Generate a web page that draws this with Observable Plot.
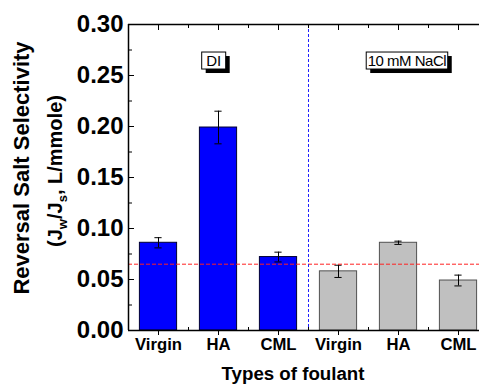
<!DOCTYPE html>
<html>
<head>
<meta charset="utf-8">
<script src="https://cdn.jsdelivr.net/npm/d3@7"></script>
<script src="https://cdn.jsdelivr.net/npm/@observablehq/plot@0.6"></script>
<style>
  html, body { margin: 0; padding: 0; background: #fff; }
  svg { font-family: Arial, "Liberation Sans", sans-serif; }
</style>
</head>
<body>
<div id="chart"></div>
<script>
// ---- data ----
const categories = ["Virgin", "HA", "CML", "Virgin", "HA", "CML"];
const groups = ["DI", "DI", "DI", "NaCl", "NaCl", "NaCl"];
const values = [0.086, 0.199, 0.072, 0.058, 0.086, 0.049];
const errors = [0.005, 0.016, 0.0048, 0.006, 0.0016, 0.0053];
const yMajorTicks = [0, 0.05, 0.10, 0.15, 0.20, 0.25, 0.30];
const yMinorTicks = [0.025, 0.075, 0.125, 0.175, 0.225, 0.275];
const referenceLevel = [0.065];
const dividerPosition = [2.5];
const annoLabels = ["DI", "10 mM NaCl"];
const annoX = [0.92, 4.14];
const annoY = [0.264, 0.264];

const rows = categories.map((c, i) => ({i, category: c, group: groups[i], value: values[i], err: errors[i]}));
const annos = annoLabels.map((t, k) => ({text: t, x: annoX[k], y: annoY[k]}));
const xIdx = d3.range(categories.length);
const xMid = xIdx.slice(0, -1).map(i => i + 0.5);

const W = 479, H = 384;
const halfBar = 0.31, halfCap = 0.06;

const plot = Plot.plot({
  width: W,
  height: H,
  marginLeft: 128,
  marginRight: 0,
  marginTop: 24,
  marginBottom: 54,
  x: {type: "linear", domain: [-0.5, 5.5], range: [128, 488], axis: null},
  y: {domain: [0, 0.3], range: [330, 24], axis: null},
  marks: [
    Plot.rectY(rows, {
      x1: d => d.i - halfBar, x2: d => d.i + halfBar, y1: 0, y2: "value",
      fill: d => d.group === "DI" ? "#0000ff" : "#c0c0c0",
      stroke: d => d.group === "DI" ? "#000033" : "#505050",
      strokeWidth: 1
    }),
    Plot.ruleX(rows, {x: "i", y1: d => d.value - d.err, y2: d => d.value + d.err, stroke: "#000", strokeWidth: 1}),
    Plot.ruleY(rows, {y: d => d.value + d.err, x1: d => d.i - halfCap, x2: d => d.i + halfCap, stroke: "#000", strokeWidth: 1}),
    Plot.ruleY(rows, {y: d => d.value - d.err, x1: d => d.i - halfCap, x2: d => d.i + halfCap, stroke: "#000", strokeWidth: 1}),
    Plot.ruleY(referenceLevel, {stroke: "#ff2020", strokeWidth: 1, strokeDasharray: "4,2"}),
    Plot.ruleX(dividerPosition, {stroke: "#2020ff", strokeWidth: 1, strokeDasharray: "3,2"}),
    Plot.ruleX([-0.5], {stroke: "#000", strokeWidth: 1.5}),
    Plot.ruleY([0], {stroke: "#000", strokeWidth: 1.5}),
    Plot.ruleY([0.3], {stroke: "#000", strokeWidth: 1.5}),
    Plot.axisY(yMajorTicks, {anchor: "left", tickSize: 6, dx: 6, tickFormat: () => "", label: null, stroke: "#000"}),
    Plot.axisY(yMinorTicks, {anchor: "left", tickSize: 4, dx: 4, tickFormat: () => "", label: null, stroke: "#000"}),
    Plot.axisY(yMajorTicks, {anchor: "left", tickSize: 0, tickPadding: 5, tickFormat: d3.format(".2f"),
      label: null, fontSize: 24, fontWeight: "bold", fill: "#000"}),
    Plot.axisX(xIdx, {anchor: "bottom", tickSize: 5, tickPadding: 3, tickFormat: i => categories[i],
      label: null, fontSize: 16.7, fontWeight: "bold", fill: "#000", stroke: "#000"}),
    Plot.axisX(xMid, {anchor: "bottom", tickSize: 3, dy: -3, tickFormat: () => "", label: null, stroke: "#000"}),
    Plot.axisX(xIdx, {anchor: "top", tickSize: 5, dy: 5, tickFormat: () => "", label: null, stroke: "#000"}),
    Plot.axisX(xMid, {anchor: "top", tickSize: 3, dy: 3, tickFormat: () => "", label: null, stroke: "#000"}),
    Plot.text(["Types of foulant"], {frameAnchor: "bottom", dx: -11, dy: 36, lineAnchor: "top",
      fontSize: 18.7, fontWeight: "bold", fill: "#000"}),
    Plot.text(annos, {x: "x", y: "y", text: "text", fontSize: 15, fill: "#000", className: "anno",
      letterSpacing: d => d.text.length > 3 ? "-0.5px" : "0px"})
  ]
});

document.getElementById("chart").appendChild(plot);
const svg = d3.select(plot);

// boxes with drop shadow behind annotations
const pads = [4.5, 1.5];
svg.selectAll("g.anno text").each(function(d, k) {
  if (k > 0) this.setAttribute("letter-spacing", "-0.5");
  const bb = this.getBBox();
  const g = this.parentNode;
  const tf = this.getAttribute("transform") || "";
  const px = pads[k] ?? 2;
  const x = bb.x - px, y = bb.y, w = bb.width + 2 * px, h = bb.height;
  const ns = "http://www.w3.org/2000/svg";
  const mk = (dx, dy, fill, stroke) => {
    const r = document.createElementNS(ns, "rect");
    r.setAttribute("transform", tf);
    r.setAttribute("x", x + dx); r.setAttribute("y", y + dy);
    r.setAttribute("width", w); r.setAttribute("height", h);
    r.setAttribute("fill", fill);
    if (stroke) { r.setAttribute("stroke", stroke); r.setAttribute("stroke-width", 1); }
    else r.setAttribute("stroke", "none");
    return r;
  };
  g.insertBefore(mk(4, 4, "#000", null), this);
  g.insertBefore(mk(0, 0, "#fff", "#000"), this);
});

// y axis title (two lines, with subscripts)
svg.append("text")
  .attr("transform", "translate(29,168) rotate(-90)")
  .attr("text-anchor", "middle")
  .attr("font-size", 22).attr("font-weight", "bold").attr("fill", "#000")
  .text("Reversal Salt Selectivity");
const t2 = svg.append("text")
  .attr("transform", "translate(62,171) rotate(-90)")
  .attr("text-anchor", "middle")
  .attr("font-size", 20).attr("font-weight", "bold").attr("fill", "#000");
t2.append("tspan").text("(J");
t2.append("tspan").attr("font-size", 13).attr("dy", 5).text("w");
t2.append("tspan").attr("dy", -5).text("/J");
t2.append("tspan").attr("font-size", 13).attr("dy", 5).text("s");
t2.append("tspan").attr("dy", -5).text(", L/mmole)");
</script>
</body>
</html>
